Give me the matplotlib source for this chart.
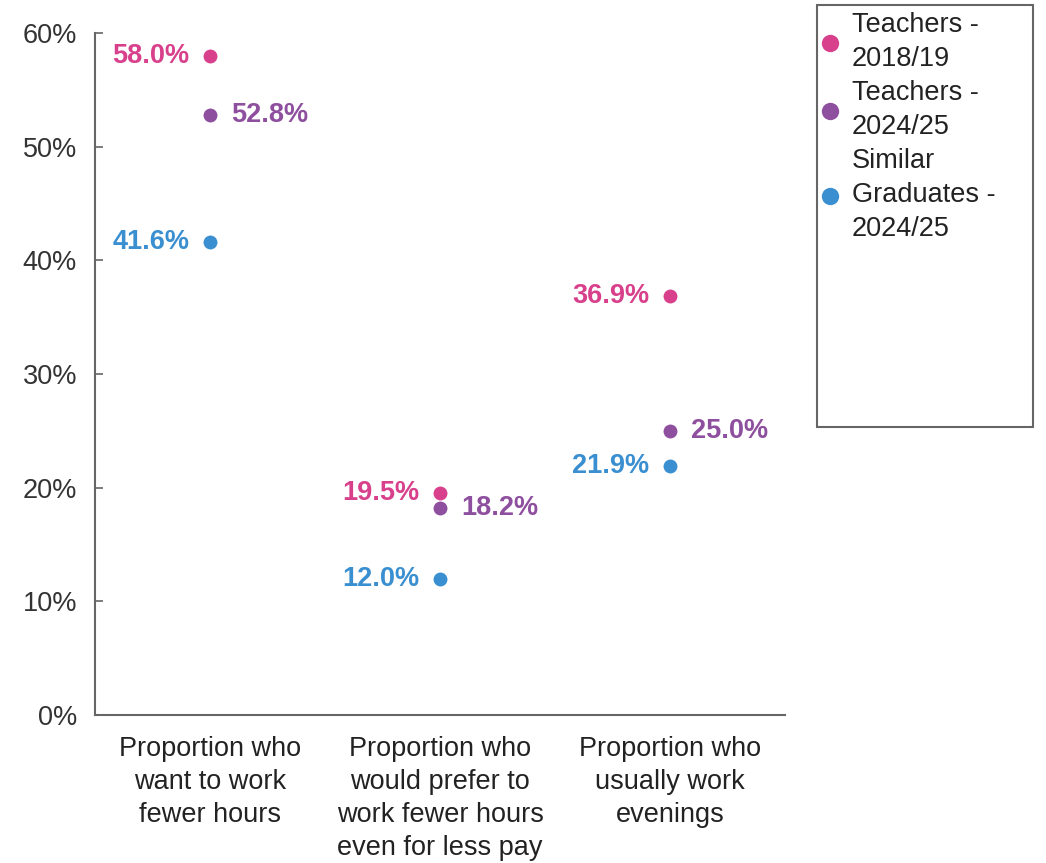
import matplotlib
matplotlib.use("Agg")
import matplotlib.pyplot as plt
from matplotlib.lines import Line2D
from matplotlib.patches import Rectangle

plt.rcParams["font.family"] = ["Liberation Sans", "DejaVu Sans"]

categories = [
    "Proportion who\nwant to work\nfewer hours",
    "Proportion who\nwould prefer to\nwork fewer hours\neven for less pay",
    "Proportion who\nusually work\nevenings",
]
series_names = ["Teachers -\n2018/19", "Teachers -\n2024/25", "Similar\nGraduates -\n2024/25"]
teachers_2018 = [58.0, 19.5, 36.9]
teachers_2024 = [52.8, 18.2, 25.0]
graduates_2024 = [41.6, 12.0, 21.9]
y_ticks = [0, 10, 20, 30, 40, 50, 60]

colors = ["#D8408C", "#8E4F9E", "#3A8FD0"]
label_side = ["left", "right", "left"]
series = [teachers_2018, teachers_2024, graduates_2024]

fig = plt.figure(figsize=(10.46, 8.63), dpi=100)
ax = fig.add_axes([95 / 1046, 148 / 863, 690 / 1046, 682 / 863])

x = list(range(len(categories)))
fs = 19.5
ls = 1.36
for vals, col, side in zip(series, colors, label_side):
    ax.scatter(x, vals, s=100, color=col, zorder=3, linewidths=0)
    for xi, v in zip(x, vals):
        dx = -15 if side == "left" else 15
        ax.annotate(f"{v:.1f}%", (xi, v), xytext=(dx, 0), textcoords="offset points",
                    ha="right" if side == "left" else "left", va="center",
                    color=col, fontsize=fs, fontweight="bold")

ax.set_xlim(-0.5, 2.5)
ax.set_ylim(0, 60)
ax.set_yticks(y_ticks)
ax.set_yticklabels([f"{t}%" for t in y_ticks], fontsize=fs, color="#333333")
ax.set_xticks(x)
ax.set_xticklabels(categories, fontsize=fs, color="#222222", linespacing=ls)
ax.tick_params(axis="y", direction="in", length=6, width=1.2, color="#666666", pad=13)
ax.tick_params(axis="x", length=0, pad=15)
for s in ["top", "right"]:
    ax.spines[s].set_visible(False)
for s in ["left", "bottom"]:
    ax.spines[s].set_color("#666666")
    ax.spines[s].set_linewidth(1.5)

# legend inside a fixed-size box on the right
fig.patches.append(Rectangle((817 / 1046, 1 - 427 / 863), 216 / 1046, 422 / 863,
                             transform=fig.transFigure, fill=False,
                             edgecolor="#666666", linewidth=1.5))
handles = [Line2D([], [], linestyle="none", marker="o", markersize=12.5,
                  markerfacecolor=c, markeredgewidth=0) for c in colors]
fig.legend(handles, series_names, loc="upper left",
           bbox_to_anchor=(820 / 1046, 1 - 12 / 863), frameon=False,
           fontsize=fs, handlelength=0.75, handletextpad=0.42,
           labelspacing=0.3, borderpad=0, borderaxespad=0)
for t in fig.legends[0].get_texts():
    t.set_color("#222222")
    t.set_linespacing(1.4)

fig.savefig("out.png", dpi=100)
